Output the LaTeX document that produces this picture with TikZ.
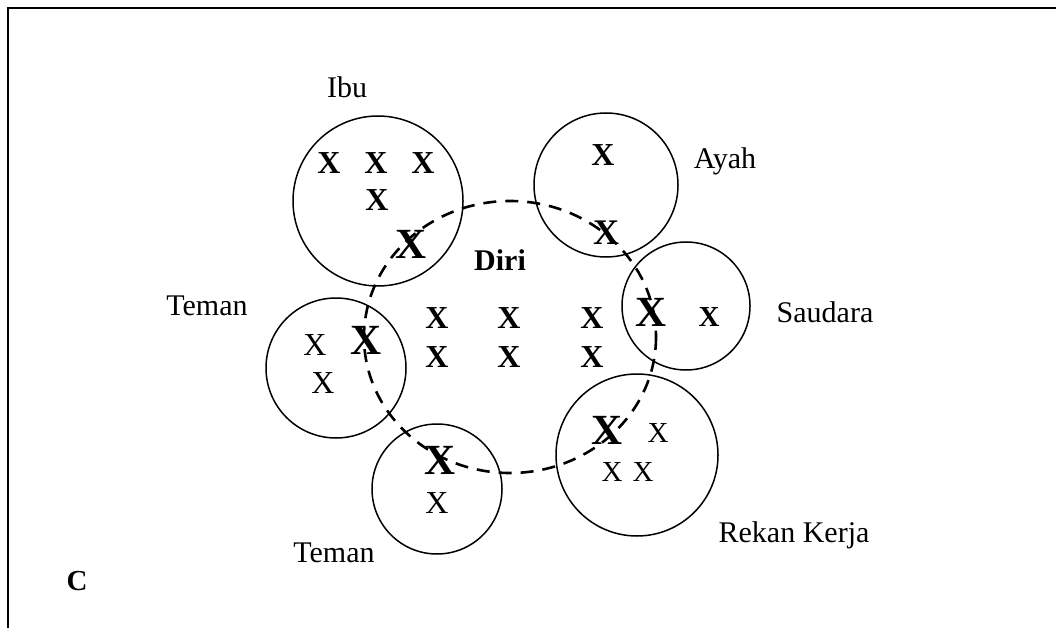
\documentclass[tikz,border=0pt]{standalone}
\usepackage{fontspec}
\setmainfont{Liberation Serif}
\begin{document}
\begin{tikzpicture}[x=1pt,y=-1pt,
  ring/.style={circle,draw,line width=1.5pt,inner sep=0pt},
  lbl/.style={font=\fontsize{30}{36}\selectfont,inner sep=0pt,anchor=base},
  xb/.style={font=\fontsize{32}{36}\selectfont\bfseries,inner sep=0pt},
  xB/.style={font=\fontsize{43}{48}\selectfont\bfseries,inner sep=0pt},
  xr/.style={font=\fontsize{32}{36}\selectfont,inner sep=0pt},
  diri/.style={line width=2.6pt,dash pattern=on 13pt off 9pt}]
\useasboundingbox (0,0) rectangle (1056,628);
% frame
\draw[line width=2.4pt] (8,628) -- (8,8) -- (1056,8);
% Diri dashed ring
\draw[diri] (510,337) ellipse [x radius=146, y radius=136];
% circles
\node[ring,minimum size=170pt] (ibu) at (378,201) {};
\node[ring,minimum size=144pt] (ayah) at (606,185) {};
\node[ring,minimum size=128pt] (saudara) at (686,306) {};
\node[ring,minimum size=140pt] (temanA) at (336,368) {};
\node[ring,minimum size=130pt] (temanB) at (437,489) {};
\node[ring,minimum size=162pt] (rekan) at (637,455) {};
% labels
\node[lbl] (lIbu) at (347,98) {Ibu};
\node[lbl] (lAyah) at (725,169) {Ayah};
\node[lbl] (lSaudara) at (825,322) {Saudara};
\node[lbl] (lTemanA) at (207,315) {Teman};
\node[lbl] (lTemanB) at (334,562) {Teman};
\node[lbl] (lRekan) at (794,542) {Rekan Kerja};
\node[lbl,font=\fontsize{30}{36}\selectfont\bfseries] (lDiri) at (500,270) {Diri};
\node[lbl,font=\fontsize{29}{34}\selectfont\bfseries] (lC) at (77,590) {C};
% Ibu
\node[xb] (i1) at (329,163) {X};
\node[xb] (i2) at (376,163) {X};
\node[xb] (i3) at (423,163) {X};
\node[xb] (i4) at (377,200) {X};
\node[xB] (i5) at (411,244) {X};
% Ayah
\node[xb] (a1) at (603,155) {X};
\node[xb,font=\fontsize{36}{40}\selectfont\bfseries] (a2) at (606,233) {X};
% Saudara
\node[xB] (s1) at (651,312) {X};
\node[xb,font=\fontsize{29}{34}\selectfont\bfseries] (s2) at (709,317) {X};
% Diri
\node[xb] (d1) at (437,318) {X};
\node[xb] (d2) at (509,318) {X};
\node[xb] (d3) at (592,318) {X};
\node[xb] (d4) at (437,357) {X};
\node[xb] (d5) at (509,357) {X};
\node[xb] (d6) at (592,357) {X};
% Teman left
\node[xr] (t1) at (315,345) {X};
\node[xr] (t2) at (323,383) {X};
\node[xB] (t3) at (366,340) {X};
% Teman bottom
\node[xB] (b1) at (440,460) {X};
\node[xr] (b2) at (437,503) {X};
% Rekan Kerja
\node[xB] (r1) at (607,430) {X};
\node[xr,font=\fontsize{29}{34}\selectfont] (r2) at (658,433) {X};
\node[xr,font=\fontsize{29}{34}\selectfont] (r3) at (612,472) {X};
\node[xr,font=\fontsize{29}{34}\selectfont] (r4) at (643,472) {X};
\end{tikzpicture}
\end{document}
